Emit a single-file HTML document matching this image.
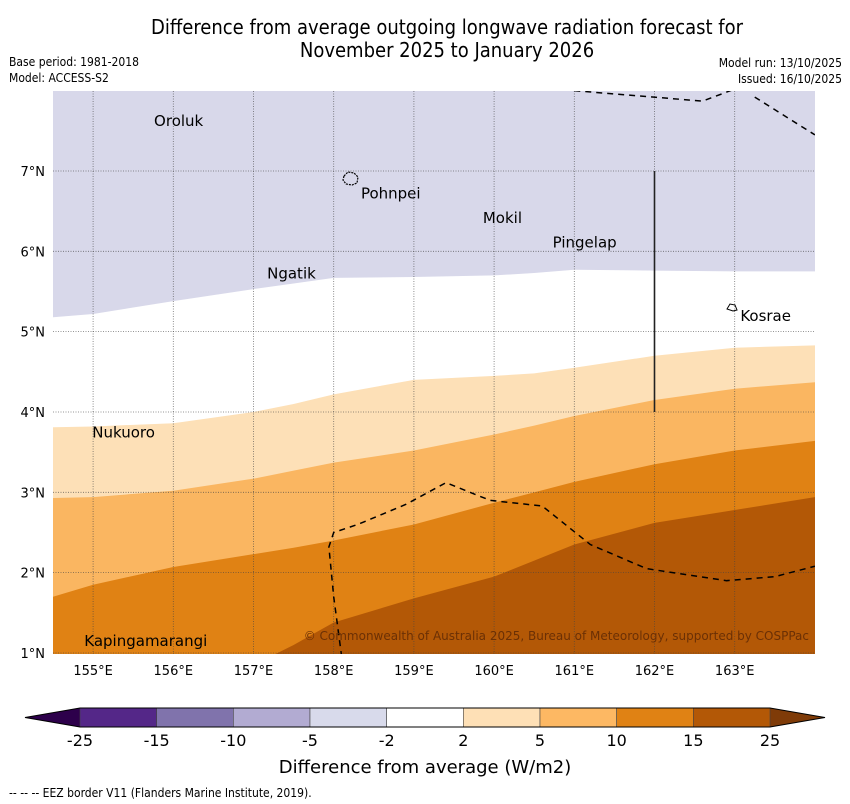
<!DOCTYPE html>
<html><head><meta charset="utf-8"><style>
body{margin:0;background:#fff;width:850px;height:804px;overflow:hidden}
svg{display:block}
text{font-family:"DejaVu Sans","Liberation Sans",sans-serif}
.cond{font-family:"DejaVu Sans Condensed","Liberation Sans Narrow","DejaVu Sans",sans-serif}
</style></head><body>
<svg id="chart" width="850" height="804" viewBox="0 0 850 804">
<text class="cond" x="447" y="34" font-size="20" text-anchor="middle">Difference from average outgoing longwave radiation forecast for</text>
<text class="cond" x="447" y="57" font-size="20" text-anchor="middle">November 2025 to January 2026</text>
<text class="cond" x="9" y="66" font-size="12">Base period: 1981-2018</text>
<text class="cond" x="9" y="82" font-size="12">Model: ACCESS-S2</text>
<text class="cond" x="842" y="67" font-size="12" text-anchor="end">Model run: 13/10/2025</text>
<text class="cond" x="842" y="83" font-size="12" text-anchor="end">Issued: 16/10/2025</text>
<defs><clipPath id="mapclip"><rect x="53" y="91" width="762" height="563"/></clipPath></defs>
<g id="map" clip-path="url(#mapclip)"></g>
<g id="overlay"></g>
<g id="cbar"></g>
<text x="425" y="773" font-size="18" text-anchor="middle">Difference from average (W/m2)</text>
<text x="9" y="797" font-size="12" class="cond">--  --  -- EEZ border V11 (Flanders Marine Institute, 2019).</text>
</svg>
<script>
// Data
const lonSamples=[154.5,155,156,157,157.5,158,159,160,160.5,161,162,163,164];
const levelColors=["#d8d8ea","#ffffff","#fde0b7","#fab661","#e08214","#b35806"];
// contour boundary latitudes (from top to bottom) at each lon sample
const bndNeg5=[5.18,5.22,5.38,5.53,5.6,5.67,5.68,5.70,5.73,5.77,5.76,5.75,5.75];
const bnd2=[3.81,3.82,3.86,4.0,4.1,4.22,4.40,4.45,4.48,4.55,4.70,4.80,4.83];
const bnd5=[2.93,2.94,3.02,3.17,3.27,3.37,3.52,3.72,3.83,3.95,4.15,4.29,4.37];
const bnd10=[1.70,1.85,2.07,2.23,2.31,2.40,2.60,2.87,3.0,3.13,3.35,3.52,3.64];
const bnd15=[0.5,0.5,0.5,0.85,1.1,1.38,1.68,1.95,2.15,2.35,2.62,2.78,2.94];
const lonTicks=[155,156,157,158,159,160,161,162,163];
const latTicks=[1,2,3,4,5,6,7];
const cbLevels=["-25","-15","-10","-5","-2","2","5","10","15","25"];
const cbColors=["#542788","#8073ac","#b2abd2","#d8daeb","#ffffff","#fee0b6","#fdb863","#e08214","#b35806"];
const places=[["Oroluk",155.76,7.56],["Pohnpei",158.34,6.66],["Ngatik",157.17,5.66],["Mokil",159.86,6.35],["Pingelap",160.73,6.05],["Kosrae",163.07,5.13],["Nukuoro",154.99,3.68],["Kapingamarangi",154.89,1.09]];
const eezMain=[[158.1,0.95],[158.0,1.7],[157.94,2.32],[158.0,2.5],[158.3,2.6],[158.9,2.85],[159.4,3.12],[159.95,2.9],[160.6,2.83],[161.2,2.35],[161.9,2.05],[162.9,1.9],[163.5,1.95],[164.0,2.08]];
const eezTop=[[161.0,8.0],[162.6,7.87],[163.0,8.02]];
const eezTop2=[[163.25,7.92],[164.0,7.45]];

const X=lon=>53+(lon-154.5)*80.2;
const Y=lat=>171+(7-lat)*80.33;
const NS="http://www.w3.org/2000/svg";
function mk(tag,attrs,parent){const e=document.createElementNS(NS,tag);for(const k in attrs)e.setAttribute(k,attrs[k]);parent.appendChild(e);return e;}
const map=document.getElementById('map');
const ov=document.getElementById('overlay');
mk('rect',{x:53,y:91,width:762,height:563,fill:levelColors[0]},map);
const bnds=[bndNeg5,bnd2,bnd5,bnd10,bnd15];
bnds.forEach((b,i)=>{
  let d="M"+X(lonSamples[0])+","+Y(b[0]);
  lonSamples.forEach((lon,j)=>{d+=" L"+X(lon)+","+Y(b[j]);});
  d+=" L"+X(164.2)+","+Y(b[b.length-1])+" L"+X(164.2)+",700 L40,700 Z";
  const p=mk('path',{d:d,fill:levelColors[i+1]},map);
  
  
});
// grid
lonTicks.forEach(l=>{const g=mk('line',{x1:X(l),x2:X(l),y1:91,y2:654,stroke:"#444",'stroke-width':0.8,'stroke-dasharray':"1,1.5",opacity:0.75},map);
 
 const t=mk('text',{x:X(l),y:675,'font-size':13,'text-anchor':'middle'},ov);t.textContent=l+"°E";
 });
latTicks.forEach(l=>{const g=mk('line',{x1:53,x2:815,y1:Y(l),y2:Y(l),stroke:"#444",'stroke-width':0.8,'stroke-dasharray':"1,1.5",opacity:0.75},map);
 
 const t=mk('text',{x:45,y:Y(l)+5,'font-size':13,'text-anchor':'end'},ov);t.textContent=l+"°N";
 });
// eez
[eezMain,eezTop,eezTop2].forEach(arr=>{const p=mk('polyline',{points:arr.map(q=>X(q[0])+","+Y(q[1])).join(" "),fill:"none",stroke:"#000",'stroke-width':1.5,'stroke-dasharray':"6,5"},map);
 });
const vl=mk('line',{x1:X(162),x2:X(162),y1:Y(7),y2:Y(4),stroke:"#222",'stroke-width':1.6},map);

const pi=mk('path',{d:"M344,176 l4,-4 l6,1 l4,4 l-1,6 l-5,2 l-6,-1 l-3,-4 z",fill:"none",stroke:"#000",'stroke-width':1.2,'stroke-dasharray':"2,1"},map);

const ki=mk('path',{d:"M727,309 l3,-5 l5,1 l2,5 l-4,1 z",fill:"none",stroke:"#000",'stroke-width':1},map);

places.forEach(p=>{const t=mk('text',{x:X(p[1]),y:Y(p[2]),'font-size':15},map);t.textContent=p[0];
 });
const cp=mk('text',{x:809,y:640,'font-size':12,'text-anchor':'end',fill:"#6b3005"},map);
cp.textContent="© Commonwealth of Australia 2025, Bureau of Meteorology, supported by COSPPac";

// colorbar
const cb=document.getElementById('cbar');
const cbx0=80,cbx1=770,cy=708,ch=19,seg=(cbx1-cbx0)/cbColors.length;
const lt=mk('polygon',{points:`25,${cy+ch/2} ${cbx0},${cy} ${cbx0},${cy+ch}`,fill:"#2d004b"},cb);

const rt=mk('polygon',{points:`825,${cy+ch/2} ${cbx1},${cy} ${cbx1},${cy+ch}`,fill:"#7f3b08"},cb);

cbColors.forEach((c,i)=>{const r=mk('rect',{x:cbx0+i*seg,y:cy,width:seg,height:ch,fill:c,stroke:"#444",'stroke-width':0.6},cb);
 });
mk('polygon',{points:`25,${cy+ch/2} ${cbx0},${cy} ${cbx1},${cy} 825,${cy+ch/2} ${cbx1},${cy+ch} ${cbx0},${cy+ch}`,fill:"none",stroke:"#000",'stroke-width':1},cb);
cbLevels.forEach((l,i)=>{const t=mk('text',{x:cbx0+i*seg,y:746,'font-size':16,'text-anchor':'middle'},cb);t.textContent=l;
 });
</script>
</body></html>
